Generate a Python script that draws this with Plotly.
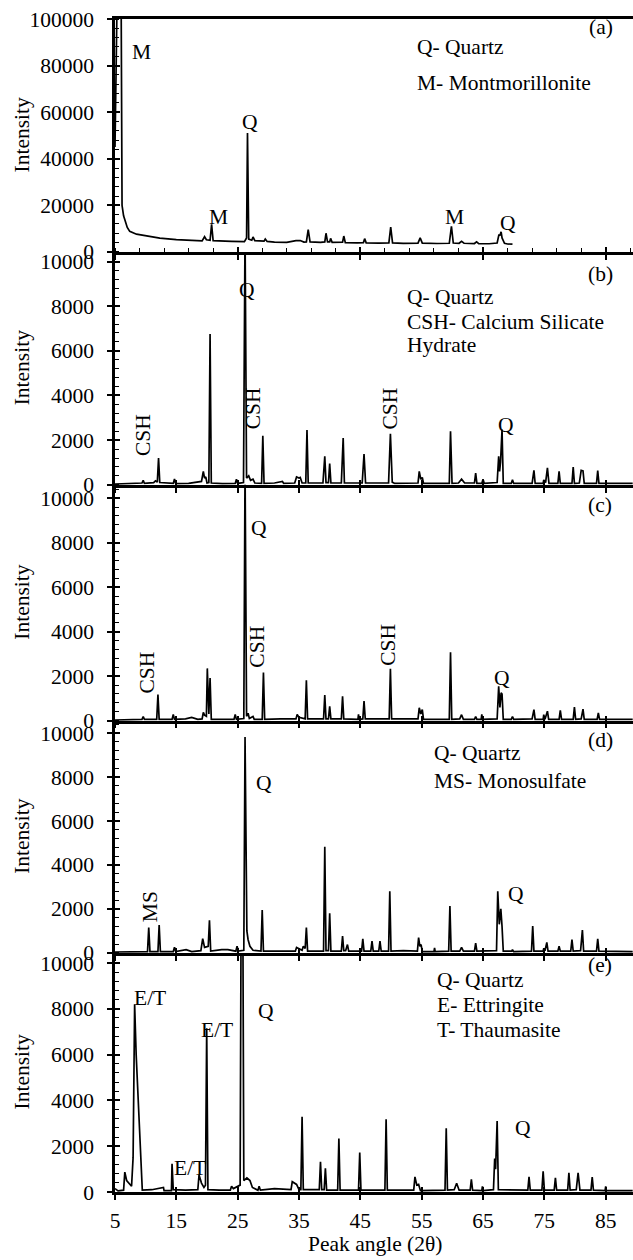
import plotly.graph_objects as go

# ---------------- data (2θ in degrees, intensity in counts) ----------------
two_theta_a = [5.0, 5.35, 5.6, 6.0, 6.15, 6.4, 7.0, 7.4, 8.5, 10, 12.3, 15, 17.2, 19.2, 19.6, 19.9, 20.5,
               20.75, 21.0, 22, 24, 26.1, 26.45, 26.6, 26.8, 27.3, 27.5, 27.8, 28.5, 29.3, 29.5, 29.8, 31,
               33, 34.5, 35.2, 35.8, 36.2, 36.5, 36.8, 38.5, 39.2, 39.4, 39.65, 40.0, 40.15, 40.4, 41.8,
               42.1, 42.3, 42.55, 44.5, 45.5, 45.7, 45.95, 48, 49.65, 49.95, 50.25, 52, 54.4, 54.75, 55.1,
               57.5, 59.5, 59.85, 60.15, 61.1, 61.5, 61.9, 63.6, 63.95, 64.3, 66, 67.3, 67.6, 67.75, 67.95,
               68.1, 68.5, 69.0, 69.8]
intensity_a = [45000, 110000, 115000, 110000, 20000, 15500, 10500, 8800, 7600, 6900, 5900, 5300, 4900,
               4700, 6500, 5200, 5000, 11800, 4800, 4600, 4500, 4400, 6000, 51000, 5500, 5000, 6400, 4800,
               4600, 4600, 5500, 4500, 4200, 4100, 4800, 4900, 4200, 4300, 9600, 4300, 4100, 4300, 8000,
               4300, 4300, 5800, 4100, 4000, 4200, 6800, 4000, 3900, 4000, 5700, 3900, 3800, 3900, 10700,
               3900, 3700, 3800, 6000, 3800, 3600, 3700, 11000, 3800, 3700, 4500, 3700, 3600, 4300, 3500,
               3500, 3800, 7500, 7000, 8600, 6000, 3700, 3400, 3300]

two_theta_b = [5.0, 8.0, 9.4, 9.6, 9.8, 11.3, 11.6, 11.9, 12.1, 12.3, 14.5, 14.7, 14.9, 17, 19.1, 19.4, 19.6,
               19.8, 20.0, 20.3, 20.5, 20.7, 22.5, 24.6, 24.8, 25.0, 25.95, 26.2, 26.45, 26.8, 27.1, 27.5,
               27.8, 28.9, 29.1, 29.3, 31, 32.3, 32.5, 34.3, 34.6, 35.0, 35.2, 35.5, 36.1, 36.3, 36.5, 38.9,
               39.2, 39.4, 39.8, 40.0, 40.2, 41.9, 42.2, 42.4, 43.5, 45.3, 45.6, 45.85, 47, 49.6, 49.9, 50.2,
               50.6, 53, 54.4, 54.6, 54.85, 55.1, 55.3, 57, 59.5, 59.7, 59.95, 61.0, 61.5, 62.0, 63.6, 63.8,
               64.0, 64.8, 65.0, 65.2, 67.3, 67.55, 67.7, 67.85, 68.1, 68.3, 69.6, 69.8, 70, 73.0, 73.3,
               73.5, 74.8, 74.9, 75.2, 75.5, 75.75, 77.2, 77.4, 77.6, 79.5, 79.7, 79.9, 80.7, 81.0, 81.3,
               81.5, 83.5, 83.7, 83.9, 89.4]
intensity_b = [30, 60, 80, 200, 60, 100, 180, 120, 1200, 100, 60, 260, 50, 60, 150, 600, 300, 350, 80, 100,
               6750, 80, 50, 60, 250, 60, 100, 11500, 300, 400, 200, 250, 80, 60, 2200, 60, 80, 150, 60, 80,
               350, 300, 330, 80, 80, 2450, 80, 80, 1280, 100, 100, 950, 80, 80, 2100, 80, 80, 80, 1380, 80,
               80, 80, 2280, 120, 60, 60, 80, 600, 250, 330, 60, 60, 60, 2400, 60, 80, 250, 80, 80, 520, 60,
               60, 250, 60, 100, 1280, 600, 1000, 2480, 60, 60, 220, 60, 60, 650, 60, 60, 220, 100, 760, 60,
               60, 600, 60, 60, 790, 60, 80, 650, 620, 60, 60, 640, 60, 60]

two_theta_c = [5.0, 9.4, 9.6, 9.8, 11.8, 12.0, 12.2, 14.3, 14.5, 14.7, 16.5, 17.5, 18.5, 19.2, 19.4, 19.6,
               19.9, 20.05, 20.3, 20.5, 20.7, 22.5, 24.4, 24.6, 24.8, 26.0, 26.2, 26.45, 26.7, 26.9, 27.5,
               27.7, 29.0, 29.2, 29.4, 32, 34.5, 34.7, 35.0, 36.0, 36.2, 36.4, 39.0, 39.2, 39.4, 39.8, 40.0,
               40.2, 41.9, 42.1, 42.3, 44.6, 44.7, 44.8, 45.4, 45.6, 45.8, 47.5, 49.7, 49.9, 50.1, 52, 54.4,
               54.6, 54.85, 55.1, 55.3, 57.5, 59.5, 59.7, 59.9, 61.2, 61.5, 61.8, 63.6, 63.8, 64.0, 64.7,
               64.8, 64.9, 67.3, 67.55, 67.75, 67.95, 68.1, 68.3, 69.6, 69.8, 70.0, 73.0, 73.3, 73.5, 74.8,
               74.9, 75.1, 75.5, 75.7, 77.4, 77.6, 77.8, 79.7, 79.9, 80.1, 81.0, 81.3, 81.5, 83.6, 83.8,
               84.0, 89.4]
intensity_c = [30, 60, 190, 60, 60, 1170, 60, 60, 280, 60, 80, 150, 60, 80, 370, 250, 200, 2350, 300, 1920,
               60, 60, 60, 280, 60, 100, 11500, 200, 340, 100, 190, 60, 60, 2170, 60, 80, 80, 280, 150, 80,
               1820, 80, 80, 1150, 80, 80, 650, 80, 80, 1100, 80, 60, 280, 60, 80, 880, 80, 80, 80, 2330, 80,
               80, 80, 580, 300, 500, 60, 60, 60, 3080, 60, 80, 270, 60, 60, 190, 60, 60, 280, 60, 80, 1550,
               600, 1250, 1200, 60, 60, 190, 60, 80, 500, 60, 60, 270, 60, 430, 60, 60, 470, 60, 60, 610, 60,
               80, 520, 60, 60, 350, 60, 60]

two_theta_d = [5.0, 8.0, 10.3, 10.5, 10.7, 12.0, 12.2, 12.4, 14.5, 14.7, 14.9, 16.6, 17.5, 19.0, 19.3, 19.6,
               20.2, 20.4, 20.6, 22.4, 23.4, 24.7, 24.9, 25.1, 26.0, 26.2, 26.5, 26.7, 27.0, 27.5, 28.8, 29.0,
               29.2, 31, 34.4, 34.6, 35.0, 35.5, 35.7, 36.0, 36.2, 36.4, 39.0, 39.2, 39.4, 39.8, 40.0, 40.2,
               41.9, 42.1, 42.3, 42.6, 42.9, 43.1, 45.2, 45.4, 45.6, 46.7, 46.9, 47.1, 48.0, 48.2, 48.4, 49.6,
               49.8, 50.0, 52, 54.3, 54.5, 54.7, 54.9, 55.1, 57.0, 57.1, 57.2, 59.4, 59.6, 59.8, 61.2, 61.5,
               61.8, 63.6, 63.8, 64.0, 67.2, 67.4, 67.65, 67.9, 68.1, 68.3, 69.7, 69.8, 70.0, 72.9, 73.1,
               73.3, 74.8, 74.9, 75.1, 75.4, 75.6, 77.2, 77.4, 77.6, 79.3, 79.5, 79.7, 80.9, 81.2, 81.4,
               83.5, 83.7, 83.9, 89.4]
intensity_d = [40, 60, 60, 1150, 60, 60, 1270, 60, 60, 260, 60, 150, 60, 100, 650, 250, 300, 1480, 80, 150,
               150, 80, 300, 80, 120, 9820, 1000, 600, 300, 120, 80, 1950, 80, 80, 80, 250, 200, 120, 300,
               200, 1150, 80, 80, 4830, 100, 100, 1800, 80, 80, 770, 100, 100, 380, 80, 80, 640, 80, 80, 540,
               80, 80, 540, 80, 80, 2800, 80, 100, 80, 700, 300, 380, 60, 60, 230, 60, 80, 2130, 80, 80, 250,
               80, 80, 450, 80, 100, 2800, 1300, 2000, 1200, 80, 80, 150, 60, 80, 1220, 80, 80, 200, 100, 480,
               80, 80, 300, 80, 80, 600, 80, 100, 1040, 80, 80, 640, 80, 60]

two_theta_e = [5.0, 5.5, 6.4, 6.6, 6.9, 7.2, 7.7, 7.95, 8.2, 8.45, 9.3, 9.45, 11.0, 12.9, 13.0, 14.2, 14.3,
               14.5, 16.5, 18.5, 18.7, 19.1, 19.5, 19.75, 19.95, 20.15, 22, 23.8, 24.0, 24.3, 25.4, 25.55,
               25.85, 26.0, 26.5, 27.0, 27.4, 28.3, 28.5, 28.7, 31, 33.7, 33.9, 34.6, 35.0, 35.3, 35.5,
               35.7, 38.3, 38.5, 38.7, 39.1, 39.3, 39.5, 41.3, 41.5, 41.7, 44.7, 44.9, 45.1, 49.0, 49.2,
               49.4, 53.7, 53.9, 54.2, 54.5, 54.8, 58.8, 59.0, 59.2, 60.3, 60.7, 61.1, 62.9, 63.1, 63.3,
               64.8, 64.9, 65.0, 66.7, 66.9, 67.05, 67.3, 67.5, 72.3, 72.5, 72.7, 74.6, 74.8, 75.0, 76.6,
               76.8, 77.0, 78.8, 79.0, 79.2, 80.2, 80.5, 80.8, 82.6, 82.8, 83.0, 84.9, 85.0, 85.1, 89.4]
intensity_e = [150, 50, 80, 870, 500, 400, 250, 1500, 8200, 6000, 900, 80, 100, 200, 60, 60, 1230, 100, 80,
               100, 740, 390, 200, 300, 7150, 100, 80, 80, 250, 150, 300, 11500, 11500, 500, 620, 500, 200,
               80, 250, 80, 150, 100, 450, 330, 100, 100, 3280, 100, 100, 1320, 100, 100, 1030, 80, 80,
               2330, 80, 80, 1720, 80, 80, 3180, 80, 80, 660, 300, 330, 60, 80, 2780, 80, 100, 380, 80, 80,
               550, 80, 60, 250, 60, 100, 1460, 1000, 3100, 100, 80, 660, 80, 80, 900, 80, 80, 620, 80, 80,
               840, 80, 100, 840, 80, 80, 650, 80, 60, 250, 60, 60]

panel_data = [(two_theta_a, intensity_a), (two_theta_b, intensity_b), (two_theta_c, intensity_c),
              (two_theta_d, intensity_d), (two_theta_e, intensity_e)]
y_top = [100000, 10430, 10600, 10560, 10440]
y_dtick = [20000, 2000, 2000, 2000, 2000]
y_minor = [4000, 400, 400, 400, 400]
panel_tags = ["(a)", "(b)", "(c)", "(d)", "(e)"]

# peak labels: (text, 2θ, intensity, rotated)
peak_labels = [
    [("M", 9.35, 86000, False), ("Q", 27.0, 55600, False), ("M", 21.8, 14800, False),
     ("M", 60.3, 14800, False), ("Q", 69.1, 12200, False)],
    [("Q", 26.5, 8730, False), ("CSH", 9.6, 2240, True), ("CSH", 27.5, 3430, True),
     ("CSH", 49.9, 3430, True), ("Q", 68.7, 2690, False)],
    [("Q", 28.5, 8650, False), ("CSH", 10.3, 2140, True), ("CSH", 28.2, 3340, True),
     ("CSH", 49.5, 3410, True), ("Q", 68.1, 1920, False)],
    [("MS", 10.7, 2120, True), ("Q", 29.3, 7730, False), ("Q", 70.4, 2700, False)],
    [("E/T", 10.75, 8470, False), ("E/T", 21.6, 7090, False), ("Q", 29.6, 7890, False),
     ("E/T", 17.2, 1050, False), ("Q", 71.5, 2790, False)],
]
# phase keys: (lines, left 2θ, intensities)
phase_keys = [
    (["Q- Quartz", "M- Montmorillonite"], 53.9, [87900, 72400]),
    (["Q- Quartz", "CSH- Calcium Silicate", "Hydrate"], 52.3, [8430, 7310, 6270]),
    ([], 0, []),
    (["Q- Quartz", "MS- Monosulfate"], 56.6, [9090, 7800]),
    (["Q- Quartz", "E- Ettringite", "T- Thaumasite"], 57.1, [9240, 8180, 7090]),
]
tag_pos = [(84.2, 96400), (84.2, 9450), (84.1, 9700), (84.1, 9700), (84.1, 9930)]

# ---------------- layout geometry ----------------
W, H = 633, 1260
MT, MB, ML = 19, 67.5, 115
bounds_px = [19, 252, 485, 721, 953.3, 1192.5]
plot_h = H - MT - MB
XR = [5, 89.45]
FONT = "Liberation Serif"
FS = 21.5

fig = go.Figure()
layout = dict(
    width=W, height=H, margin=dict(l=ML, r=0, t=MT, b=MB),
    plot_bgcolor="white", paper_bgcolor="white", showlegend=False,
    font=dict(family=FONT, size=FS, color="black"),
)
annotations = []

for i in range(5):
    n = i + 1
    xn = "x" if n == 1 else f"x{n}"
    yn = "y" if n == 1 else f"y{n}"
    xo, yo = f"x{n + 5}", f"y{n + 5}"
    dom = [(H - MB - bounds_px[i + 1]) / plot_h, (H - MB - bounds_px[i]) / plot_h]
    dom = [max(0, dom[0]), min(1, dom[1])]
    xs, ys = panel_data[i]
    fig.add_trace(go.Scatter(x=xs, y=ys, mode="lines", xaxis=xn, yaxis=yn,
                             line=dict(color="black", width=1.7), hoverinfo="skip"))
    # invisible twin so crossing ticks can be drawn
    fig.add_trace(go.Scatter(x=xs, y=ys, mode="lines", xaxis=xo, yaxis=yo,
                             line=dict(color="rgba(0,0,0,0)", width=0), hoverinfo="skip"))
    xdt = 20 if i == 0 else 10
    xax = dict(domain=[0, 1], anchor=yn, range=XR, showline=True, linewidth=2.5, linecolor="black",
               ticks="outside", ticklen=5, tickwidth=1.5, tickcolor="black", tick0=5, dtick=xdt,
               showgrid=False, zeroline=False, showticklabels=(i == 4), tickformat="d",
               tickfont=dict(family=FONT, size=FS), ticklabelstandoff=2)
    if i == 0:
        xax["mirror"] = True
        xax["minor"] = dict(tick0=5, dtick=4, ticks="inside", ticklen=4, tickwidth=1.2, tickcolor="black")
    yax = dict(domain=dom, anchor=xn, range=[0, y_top[i]], showline=True, linewidth=2.5, linecolor="black",
               ticks="outside", ticklen=5, tickwidth=1.5, tickcolor="black", tick0=0, dtick=y_dtick[i],
               showgrid=False, zeroline=False, tickfont=dict(family=FONT, size=FS), ticklabelstandoff=9,
               tickformat="d",
               minor=dict(dtick=y_minor[i], tick0=0, ticks="inside", ticklen=4, tickwidth=1.2,
                          tickcolor="black"))
    xo_ax = dict(overlaying=xn, anchor=yn, range=XR, showline=False, ticks="inside", ticklen=5, tickwidth=1.5,
                 tickcolor="black", tick0=5, dtick=xdt, showticklabels=False, showgrid=False, zeroline=False)
    yo_ax = dict(overlaying=yn, anchor=xn, range=[0, y_top[i]], showline=False, ticks="inside", ticklen=5,
                 tickwidth=1.5, tickcolor="black", tick0=0, dtick=y_dtick[i], showticklabels=False,
                 showgrid=False, zeroline=False)
    layout["xaxis" if n == 1 else f"xaxis{n}"] = xax
    layout["yaxis" if n == 1 else f"yaxis{n}"] = yax
    layout[f"xaxis{n + 5}"] = xo_ax
    layout[f"yaxis{n + 5}"] = yo_ax

    for (txt, px, py, rot) in peak_labels[i]:
        annotations.append(dict(text=txt, x=px, y=py, xref=xn, yref=yn, showarrow=False,
                                textangle=-90 if rot else 0, xanchor="center", yanchor="middle",
                                font=dict(family=FONT, size=FS)))
    lines, lx, lys = phase_keys[i]
    for txt, ly in zip(lines, lys):
        annotations.append(dict(text=txt, x=lx, y=ly, xref=xn, yref=yn, showarrow=False,
                                xanchor="left", yanchor="middle", font=dict(family=FONT, size=FS)))
    tx, ty = tag_pos[i]
    annotations.append(dict(text=panel_tags[i], x=tx, y=ty, xref=xn, yref=yn, showarrow=False,
                            xanchor="center", yanchor="middle", font=dict(family=FONT, size=FS)))
    annotations.append(dict(text="Intensity", x=(22 - ML) / (W - ML), y=0.5, xref="paper",
                            yref=f"{yn} domain", showarrow=False, textangle=-90, xanchor="center",
                            yanchor="middle", font=dict(family=FONT, size=FS)))

annotations.append(dict(text="Peak angle (2θ)", x=(375 - ML) / (W - ML), y=(H - MB - 1245) / plot_h,
                        xref="paper", yref="paper", showarrow=False, xanchor="center", yanchor="middle",
                        font=dict(family=FONT, size=FS)))
layout["annotations"] = annotations
fig.update_layout(**layout)
fig.write_html("out.html")
